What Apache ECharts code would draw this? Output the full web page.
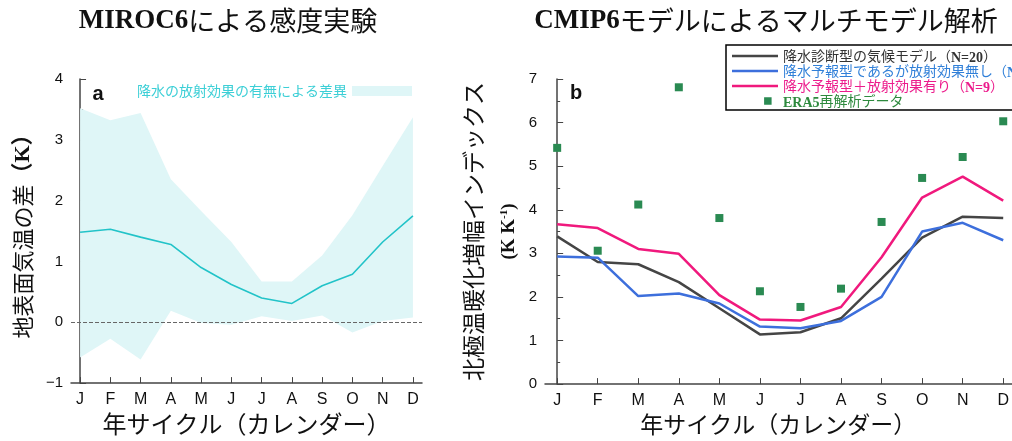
<!DOCTYPE html>
<html><head><meta charset="utf-8">
<script src="https://cdn.jsdelivr.net/npm/echarts@6/dist/echarts.min.js"></script>
<style>html,body{margin:0;padding:0;background:#fff}#c{width:1012px;height:441px}</style>
</head><body><div id="c"></div>
<script>
// ---- data ----
const months = ['J','F','M','A','M','J','J','A','S','O','N','D'];
const yTicksA = [-1, 0, 1, 2, 3, 4];
const yTicksB = [0, 1, 2, 3, 4, 5, 6, 7];
// panel a: MIROC6 sensitivity experiment
const mirocMean  = [1.48, 1.53, 1.40, 1.28, 0.90, 0.62, 0.40, 0.31, 0.60, 0.79, 1.32, 1.75];
const mirocUpper = [3.52, 3.32, 3.44, 2.35, 1.83, 1.32, 0.67, 0.67, 1.10, 1.76, 2.57, 3.37];
const mirocLower = [-0.58, -0.27, -0.61, 0.19, -0.01, -0.04, 0.10, 0.02, 0.11, -0.17, 0.02, 0.08];
const bandName = '降水の放射効果の有無による差異';
// panel b: CMIP6 multi-model analysis
const diagModels   = [3.39, 2.80, 2.75, 2.34, 1.74, 1.14, 1.19, 1.51, 2.42, 3.36, 3.84, 3.81];
const progNoRad    = [2.93, 2.90, 2.02, 2.08, 1.85, 1.32, 1.28, 1.45, 2.00, 3.50, 3.70, 3.30];
const progWithRad  = [3.67, 3.58, 3.10, 2.99, 2.04, 1.48, 1.46, 1.77, 2.91, 4.28, 4.76, 4.21];
const era5         = [5.42, 3.06, 4.12, 6.81, 3.81, 2.13, 1.77, 2.19, 3.72, 4.73, 5.21, 6.03];
const seriesNamesB = ['降水診断型の気候モデル（N=20）', '降水予報型であるが放射効果無し（N=5）', '降水予報型＋放射効果有り（N=9）', 'ERA5再解析データ'];

// ---- build ----
const idx = months.map((_, i) => i);
const pairs = arr => arr.map((v, i) => [i, v]);
const bandData = idx.map(i => [i, mirocLower[i], mirocUpper[i]]);

const SANS = '"Liberation Sans", "Noto Sans CJK JP", sans-serif';
const CJK = '"Noto Sans CJK JP", "Liberation Sans", sans-serif';
const SERIF = '"Liberation Serif", "Noto Sans CJK JP", serif';
const AX = '#444';
const BAND = '#dff6f7';
const colorsB = ['#454545', '#3d6fdc', '#f0197d', '#2a8a52'];

function xAxisCfg(grid, nameSize) {
  return {
    type: 'value', gridIndex: grid, min: -0.3, max: grid === 0 ? 11.3 : 11.21,
    axisLine: { show: true, onZero: false, lineStyle: { color: AX, width: 1.5 } },
    axisTick: { show: true, inside: true, length: 6, customValues: idx, lineStyle: { color: AX } },
    axisLabel: { customValues: idx, formatter: v => months[Math.round(v)], fontSize: 16, color: '#111', margin: 8, fontFamily: SANS },
    splitLine: { show: false },
    name: '年サイクル（カレンダー）', nameLocation: 'middle', nameGap: 27,
    nameTextStyle: { fontSize: nameSize, color: '#111', fontFamily: CJK }
  };
}
function yAxisCfg(grid, ticks, extra) {
  return Object.assign({
    type: 'value', gridIndex: grid, min: ticks[0], max: ticks[ticks.length - 1], interval: 1,
    axisLine: { show: true, lineStyle: { color: AX, width: 1.5 } },
    axisTick: { show: true, inside: true, length: 6, lineStyle: { color: AX } },
    minorTick: { show: true, splitNumber: 2, length: 3, lineStyle: { color: AX } },
    axisLabel: { fontSize: 15, color: '#111', margin: 8, fontFamily: SANS, formatter: v => v < 0 ? '\u2212' + (-v) : String(v) },
    splitLine: { show: false }
  }, extra);
}
const lineIcon = 'path://M0,0h46v2.5h-46z';
const squareIcon = 'path://M-24,-3.5h0.01v0.01h-0.01z M-24,10.5h0.01v0.01h-0.01z M0,0h7v7h-7z';
const legendFormat = n => n.split(/([A-Za-z0-9=]+)/).filter(s => s.length)
  .map(s => /^[A-Za-z0-9=]+$/.test(s) ? '{e|' + s + '}' : '{c|' + s + '}').join('');

const option = {
  animation: false,
  backgroundColor: '#fff',
  textStyle: { fontFamily: SANS },
  graphic: [
    { type: 'text', x: 228, y: 21, style: { text: '{l|MIROC6}{c|による感度実験}', align: 'center', verticalAlign: 'middle',
      rich: { l: { fontFamily: SERIF, fontWeight: 'bold', fontSize: 27, fill: '#111' }, c: { fontFamily: CJK, fontSize: 27, fill: '#111' } } } },
    { type: 'text', x: 766, y: 21, style: { text: '{l|CMIP6}{c|モデルによるマルチモデル解析}', align: 'center', verticalAlign: 'middle',
      rich: { l: { fontFamily: SERIF, fontWeight: 'bold', fontSize: 27, fill: '#111' }, c: { fontFamily: CJK, fontSize: 27, fill: '#111' } } } },
    { type: 'text', x: 98, y: 94, z: 10, style: { text: 'a', align: 'center', verticalAlign: 'middle', fontFamily: SANS, fontWeight: 'bold', fontSize: 20, fill: '#111' } },
    { type: 'text', x: 576, y: 93, z: 10, style: { text: 'b', align: 'center', verticalAlign: 'middle', fontFamily: SANS, fontWeight: 'bold', fontSize: 20, fill: '#111' } }
  ],
  legend: [
    { left: 137, top: 84, padding: 0, align: 'right', itemWidth: 60, itemHeight: 10,
      textStyle: { color: '#3ccfd6', fontSize: 14, fontFamily: CJK },
      data: [{ name: bandName, icon: 'rect', itemStyle: { color: BAND } }] },
    { orient: 'vertical', left: 726, top: 45, padding: [2, 80, 0, 6], itemWidth: 46, itemHeight: 15, itemGap: -3,
      borderColor: '#000', borderWidth: 1.5, backgroundColor: '#fff', symbolKeepAspect: true,
      textStyle: { fontSize: 14, lineHeight: 15, fontFamily: CJK,
        rich: { e: { fontFamily: SERIF, fontWeight: 'bold', fontSize: 14, lineHeight: 11, padding: [4, 0, 0, 0], verticalAlign: 'middle' },
                c: { fontFamily: CJK, fontSize: 14, lineHeight: 15, verticalAlign: 'middle' } } },
      formatter: legendFormat,
      data: [
        { name: seriesNamesB[0], icon: lineIcon, itemStyle: { color: colorsB[0] }, textStyle: { color: '#333' } },
        { name: seriesNamesB[1], icon: lineIcon, itemStyle: { color: colorsB[1] }, textStyle: { color: '#2f7fd8' } },
        { name: seriesNamesB[2], icon: lineIcon, itemStyle: { color: colorsB[2] }, textStyle: { color: '#ec1c8c' } },
        { name: seriesNamesB[3], icon: squareIcon, itemStyle: { color: colorsB[3] }, textStyle: { color: '#2e8a3e' } }
      ] }
  ],
  grid: [
    { left: 71, top: 79, right: 590, bottom: 55 },
    { left: 545, top: 79, right: 0, bottom: 55 }
  ],
  xAxis: [xAxisCfg(0, 24), xAxisCfg(1, 23)],
  yAxis: [
    yAxisCfg(0, yTicksA, { name: '地表面気温の差{k|（K）}', nameLocation: 'middle', nameGap: 37,
      nameTextStyle: { fontSize: 22, color: '#111', fontFamily: CJK, rich: { k: { fontSize: 22, fontFamily: SERIF, fontWeight: 'bold' } } } }),
    yAxisCfg(1, yTicksB, { name: '{j|北極温暖化増幅インデックス}\n{k|(K K}{s|-1}{k|)}', nameLocation: 'middle', nameGap: 18,
      nameTextStyle: { color: '#111', align: 'center',
        rich: { j: { fontSize: 23, lineHeight: 36, fontFamily: CJK }, k: { fontSize: 19, lineHeight: 36, fontFamily: SERIF, fontWeight: 'bold' },
                s: { fontSize: 11, fontFamily: SERIF, fontWeight: 'bold', padding: [0, 0, 10, 0] } } } })
  ],
  series: [
    { type: 'custom', name: bandName, xAxisIndex: 0, yAxisIndex: 0, data: bandData, encode: { x: 0, y: [1, 2] },
      itemStyle: { color: BAND }, silent: true, z: 1, clip: true,
      renderItem: (params, api) => {
        if (params.dataIndex !== 0) return null;
        const top = bandData.map(d => api.coord([d[0], d[2]]));
        const bot = bandData.map(d => api.coord([d[0], d[1]])).reverse();
        return { type: 'polygon', shape: { points: top.concat(bot) }, style: { fill: BAND } };
      } },
    { type: 'line', xAxisIndex: 0, yAxisIndex: 0, data: pairs(mirocMean), symbol: 'none',
      lineStyle: { color: '#22c3c8', width: 1.6 }, itemStyle: { color: '#22c3c8' }, z: 3,
      markLine: { silent: true, symbol: 'none', label: { show: false },
        lineStyle: { type: 'dashed', color: '#666', width: 1 }, data: [{ yAxis: 0 }] } },
    { type: 'line', name: seriesNamesB[0], xAxisIndex: 1, yAxisIndex: 1, data: pairs(diagModels), symbol: 'none',
      lineStyle: { color: colorsB[0], width: 2.5 }, itemStyle: { color: colorsB[0] }, z: 3 },
    { type: 'line', name: seriesNamesB[1], xAxisIndex: 1, yAxisIndex: 1, data: pairs(progNoRad), symbol: 'none',
      lineStyle: { color: colorsB[1], width: 2.5 }, itemStyle: { color: colorsB[1] }, z: 3 },
    { type: 'line', name: seriesNamesB[2], xAxisIndex: 1, yAxisIndex: 1, data: pairs(progWithRad), symbol: 'none',
      lineStyle: { color: colorsB[2], width: 2.5 }, itemStyle: { color: colorsB[2] }, z: 4 },
    { type: 'scatter', name: seriesNamesB[3], xAxisIndex: 1, yAxisIndex: 1, data: pairs(era5), symbol: 'rect', symbolSize: 8,
      itemStyle: { color: colorsB[3], opacity: 1 }, z: 5 }
  ]
};
const chart = echarts.init(document.getElementById('c'));
chart.setOption(option);
</script></body></html>
